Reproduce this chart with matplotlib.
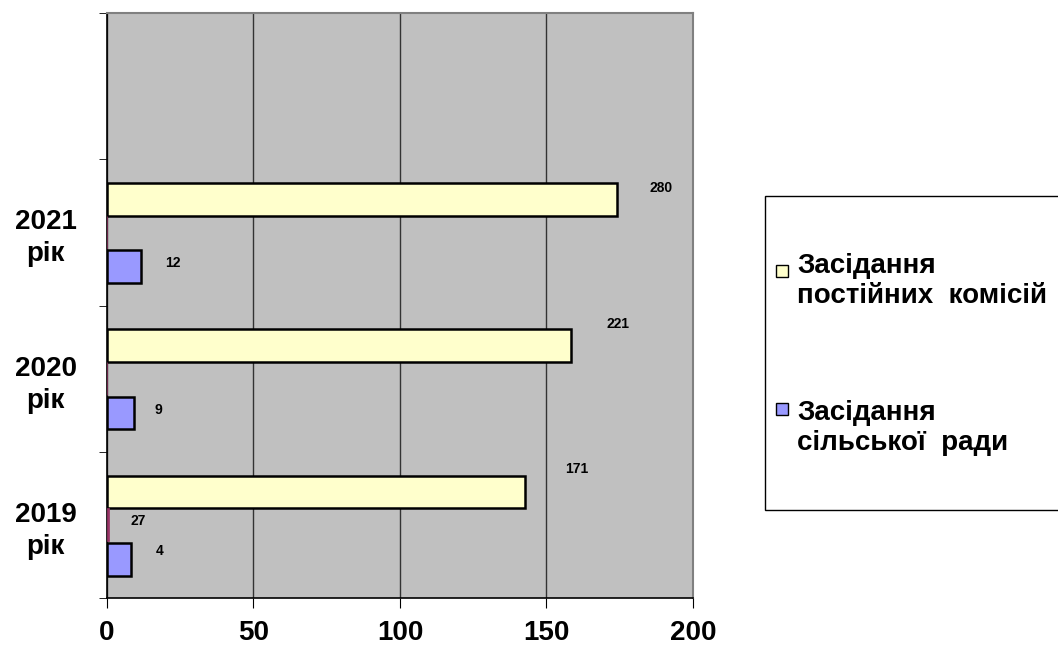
import numpy as np
import matplotlib.pyplot as plt
from matplotlib.patches import Rectangle

plt.rcParams['font.family'] = ['Liberation Sans', 'DejaVu Sans']

years = ['2019\nрік', '2020\nрік', '2021\nрік']
# bar lengths as drawn on the chart (x axis units)
commissions = [142.5, 158.5, 174]
council = [8.2, 9.3, 11.5]
other = [0.8, 0, 0]
# data labels printed next to the bars
commissions_lbl = ['171', '221', '280']
council_lbl = ['4', '9', '12']
other_lbl = ['27', '', '']

legend_labels = [('Засідання', 'постійних  комісій'), ('Засідання', 'сільської  ради')]
colors = ['#FFFFCC', '#9999FF', '#993366']

# label offsets from the bar end, in pixels (dx, dy up)
comm_off = [(52, 23), (47, 22), (44, 11)]
coun_off = [(29, 8), (24, 3), (32, 4)]
oth_off = [(29, 4), (0, 0), (0, 0)]

W, H = 1058, 652
fig = plt.figure(figsize=(W / 100, H / 100), dpi=100)
ax = fig.add_axes([107 / W, 1 - 598 / H, (693 - 107) / W, (598 - 13) / H])
ax.set_facecolor('#C0C0C0')

y = np.arange(len(years))
h = 0.225
ax.barh(y + 0.225, commissions, height=h, color=colors[0], edgecolor='black', linewidth=1.8, zorder=3)
ax.barh(y, other, height=h, color=colors[2], edgecolor=colors[2], linewidth=0.5, zorder=3)
ax.barh(y - 0.235, council, height=h, color=colors[1], edgecolor='black', linewidth=1.8, zorder=3)

def put(txt, x, yy, off):
    if txt:
        ax.annotate(txt, (x, yy), xytext=(off[0] * 0.72, off[1] * 0.72),
                    textcoords='offset points', ha='center', va='center',
                    fontsize=10, fontweight='bold')

for i in range(len(years)):
    put(commissions_lbl[i], commissions[i], y[i] + 0.225, comm_off[i])
    put(council_lbl[i], council[i], y[i] - 0.235, coun_off[i])
    put(other_lbl[i], other[i], y[i], oth_off[i])

ax.set_xlim(0, 200)
ax.set_ylim(-0.5, 3.5)
ax.set_xticks([0, 50, 100, 150, 200])
ax.tick_params(axis='x', labelsize=20, direction='out', length=7, pad=9)
for t in ax.get_xticklabels():
    t.set_fontweight('bold')
ax.set_yticks(y)
ax.set_yticklabels(years, fontsize=20, fontweight='bold', linespacing=1.3)
ax.set_yticks(np.arange(-0.5, 3.6, 1), minor=True)
ax.tick_params(axis='y', which='major', length=0, pad=44)
ax.tick_params(axis='y', which='minor', length=6, direction='out')
for t in ax.get_yticklabels():
    t.set_horizontalalignment('center')

ax.grid(axis='x', color='#333333', linewidth=1.0, zorder=1)
ax.set_axisbelow(True)
for s in ['top', 'right']:
    ax.spines[s].set_color('#808080')
    ax.spines[s].set_linewidth(1.5)
for s in ['left', 'bottom']:
    ax.spines[s].set_color('black')
    ax.spines[s].set_linewidth(1.2)

# legend box, drawn in figure pixels
fig.patches.append(Rectangle((765 / W, 1 - 510 / H), 320 / W, 314 / H, transform=fig.transFigure,
                             facecolor='white', edgecolor='black', linewidth=1.0, zorder=1))
sq_top = [265, 403]
base = [273, 420]
for k, (l1, l2) in enumerate(legend_labels):
    fig.patches.append(Rectangle((776 / W, 1 - (sq_top[k] + 12) / H), 12 / W, 12 / H,
                                 transform=fig.transFigure, facecolor=colors[k],
                                 edgecolor='black', linewidth=1.0, zorder=2))
    fig.text(797 / W, 1 - base[k] / H, l1, fontsize=20, fontweight='bold', va='baseline', zorder=3)
    fig.text(797 / W, 1 - (base[k] + 30) / H, l2, fontsize=20, fontweight='bold', va='baseline', zorder=3)

fig.savefig('out.png', dpi=100)
